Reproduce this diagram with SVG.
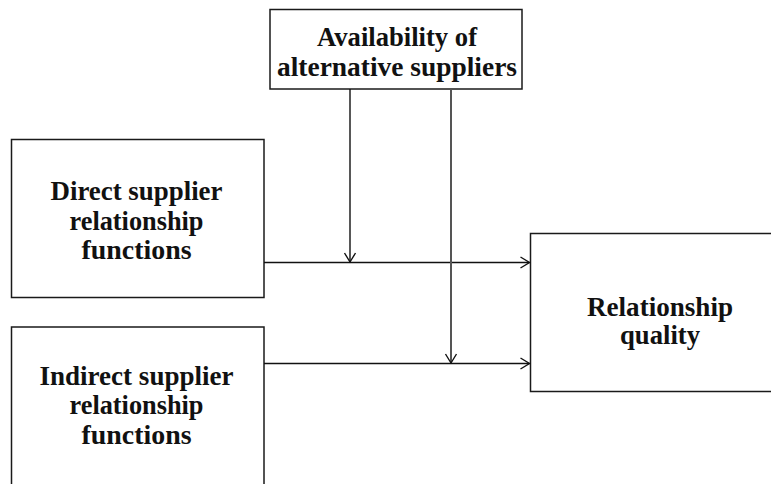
<svg xmlns="http://www.w3.org/2000/svg" width="771" height="484" viewBox="0 0 771 484">
  <style>
    .box { fill: #ffffff; stroke: #1a1a1a; stroke-width: 1.5; }
    .label { font-family: "Liberation Serif", "DejaVu Serif", serif; font-weight: bold; font-size: 26.5px; fill: #111111; text-anchor: middle; }
    .conn { fill: none; stroke: #111111; stroke-width: 1.4; }
    .conn.grey { stroke: #555555; stroke-width: 2; }
  </style>
  <defs>
    <marker id="arrow" markerUnits="userSpaceOnUse" markerWidth="14" markerHeight="14" viewBox="-10 -7 12 14" refX="0" refY="0" orient="auto">
      <path d="M -9 -5.5 L 0 0 L -9 5.5" fill="none" stroke="#111111" stroke-width="1.4"/>
    </marker>
  </defs>
  <rect width="771" height="484" fill="#ffffff"/>

  <g id="node-availability">
    <rect class="box" x="270" y="9.5" width="252" height="79.5"/>
    <text class="label" x="397" y="46" textLength="160" lengthAdjust="spacingAndGlyphs">Availability of</text>
    <text class="label" x="397" y="76" textLength="240" lengthAdjust="spacingAndGlyphs">alternative suppliers</text>
  </g>

  <g id="node-direct">
    <rect class="box" x="11.5" y="139.5" width="252.5" height="158"/>
    <text class="label" x="136.5" y="200" textLength="172" lengthAdjust="spacingAndGlyphs">Direct supplier</text>
    <text class="label" x="136.5" y="230" textLength="134" lengthAdjust="spacingAndGlyphs">relationship</text>
    <text class="label" x="136.5" y="259" textLength="110" lengthAdjust="spacingAndGlyphs">functions</text>
  </g>

  <g id="node-indirect">
    <rect class="box" x="11.5" y="327" width="252.5" height="170"/>
    <text class="label" x="136.5" y="385" textLength="194" lengthAdjust="spacingAndGlyphs">Indirect supplier</text>
    <text class="label" x="136.5" y="414" textLength="134" lengthAdjust="spacingAndGlyphs">relationship</text>
    <text class="label" x="136.5" y="444" textLength="110" lengthAdjust="spacingAndGlyphs">functions</text>
  </g>

  <g id="node-quality">
    <rect class="box" x="530.5" y="233.5" width="260" height="158"/>
    <text class="label" x="660" y="316" textLength="146" lengthAdjust="spacingAndGlyphs">Relationship</text>
    <text class="label" x="660" y="344" textLength="80" lengthAdjust="spacingAndGlyphs">quality</text>
  </g>

  <g id="connectors">
    <line class="conn" x1="264" y1="262.5" x2="529.5" y2="262.5" marker-end="url(#arrow)"/>
    <line class="conn" x1="264" y1="363.5" x2="529.5" y2="363.5" marker-end="url(#arrow)"/>
    <line class="conn" x1="350" y1="89" x2="350" y2="262" marker-end="url(#arrow)"/>
    <line class="conn grey" x1="451" y1="89" x2="451" y2="363" marker-end="url(#arrow)"/>
  </g>
</svg>
